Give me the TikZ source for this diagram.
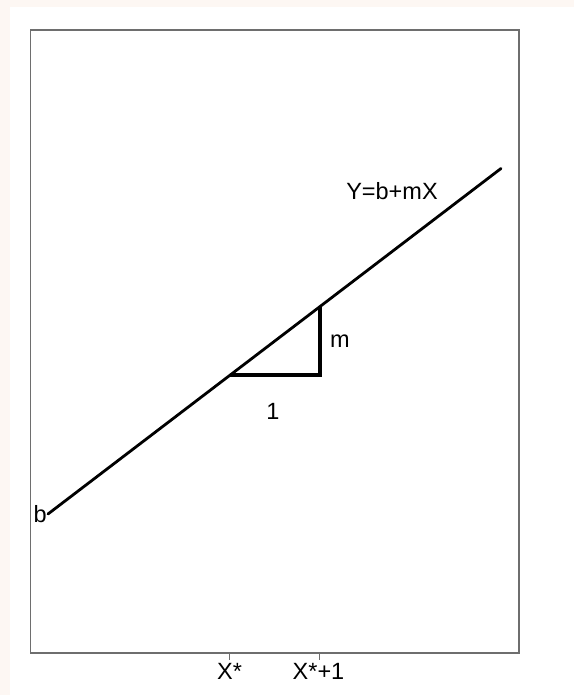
\documentclass[tikz,border=0pt]{standalone}
\usepackage{fontspec}
\setmainfont{Liberation Sans}
\usetikzlibrary{positioning}

\definecolor{pagepink}{HTML}{FDF7F3}
\definecolor{framegray}{HTML}{6E6E6E}

\tikzset{
  lbl/.style={inner sep=0pt, font=\fontsize{23.5bp}{28bp}\selectfont, text=black},
  fitline/.style={line width=2.8bp, line cap=round},
  slopebox/.style={line width=3.8bp, line join=miter},
  tick/.style={framegray, line width=1.2bp}
}

\begin{document}
\begin{tikzpicture}[x=1bp, y=1bp]
	% Page background and margins
	\fill[pagepink] (0,0) rectangle (574,695);
	\fill[white] (10,0) rectangle (574,688);
	\useasboundingbox (0,0) rectangle (574,695);

	% Plot frame
	\draw[framegray, line width=1.8bp] (30.5,41.7) rectangle (519.3,665.3);

	% Regression line
	\coordinate (b0) at (48,181);
	\coordinate (bend) at (501,526.5);
	\draw[fitline] (b0) -- (bend);
	\node[lbl, left=1bp of b0] (blabel) {b};
	\node[lbl] (eqlabel) at (392,504) {Y=b+mX};

	% Slope triangle: run of 1, rise of m
	\coordinate (p) at (230,319.8);
	\coordinate (q) at (320,319.8);
	\coordinate (r) at (320,388.5);
	\draw[slopebox] (p) -- (q) -- (r);
	\node[lbl, anchor=base west] (mlabel) at (330,347) {m};
	\node[lbl, anchor=base] (onelabel) at (273,275) {1};

	% Axis ticks
	\coordinate (t1) at (229.3,41.7);
	\coordinate (t1end) at (229.3,34.5);
	\coordinate (t2) at (319.3,41.7);
	\coordinate (t2end) at (319.3,34.5);
	\draw[tick] (t1) -- (t1end);
	\draw[tick] (t2) -- (t2end);
	\node[lbl, anchor=base] (xlabel) at (229.5,15) {X*};
	\node[lbl, anchor=base] (x1label) at (318.5,15) {X*+1};
\end{tikzpicture}
\end{document}
